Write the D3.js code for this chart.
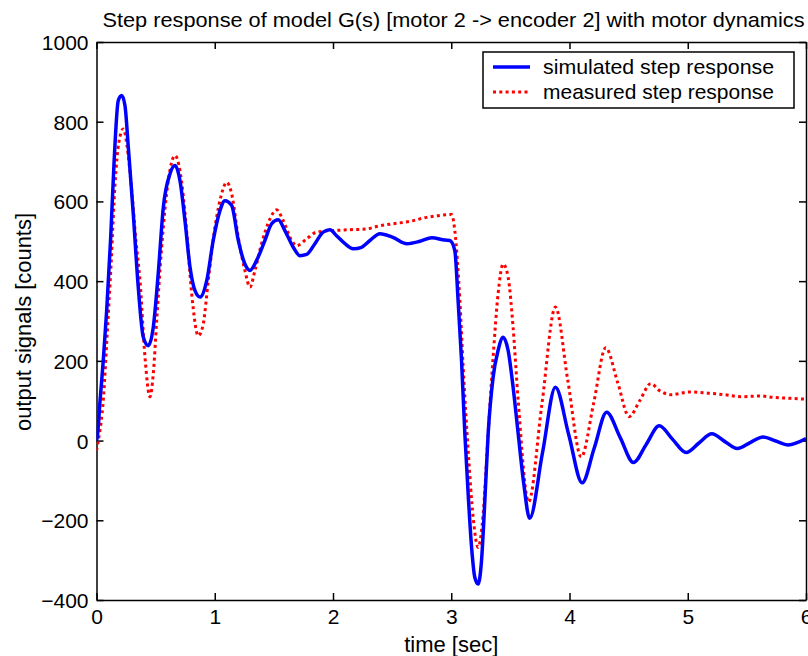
<!DOCTYPE html>
<html>
<head>
<meta charset="utf-8">
<script src="https://cdn.jsdelivr.net/npm/d3@7"></script>
<style>
  body { margin: 0; background: #fff; }
  svg { display: block; font-family: "Liberation Sans", Arial, Helvetica, sans-serif; }
</style>
</head>
<body>
<svg id="chart" width="808" height="656"></svg>
<script>
// simulated step response (blue)
const simTime = [0.000, 0.007, 0.030, 0.057, 0.086, 0.120, 0.148, 0.184, 0.213, 0.241, 0.269, 0.311, 0.353, 0.396, 0.438, 0.480, 0.522, 0.565, 0.621, 0.664,
  0.706, 0.748, 0.791, 0.833, 0.876, 0.932, 0.987, 1.044, 1.086, 1.143, 1.199, 1.255, 1.298, 1.354, 1.424, 1.481, 1.537, 1.593, 1.664, 1.720,
  1.777, 1.847, 1.917, 1.974, 2.030, 2.101, 2.171, 2.242, 2.312, 2.397, 2.506, 2.625, 2.735, 2.836, 2.946, 2.988, 3.030, 3.058, 3.087, 3.115,
  3.143, 3.172, 3.199, 3.227, 3.256, 3.284, 3.312, 3.354, 3.396, 3.439, 3.481, 3.523, 3.566, 3.614, 3.663, 3.772, 3.881, 3.994, 4.107, 4.210,
  4.314, 4.428, 4.541, 4.650, 4.759, 4.872, 4.986, 5.095, 5.204, 5.311, 5.419, 5.528, 5.637, 5.744, 5.850, 6.000];
const simValue = [0, 10, 100, 200, 326, 510, 695, 853, 866, 840, 736, 569, 385, 259, 238, 284, 419, 585, 669, 690,
  652, 552, 435, 376, 360, 401, 502, 577, 602, 590, 502, 443, 427, 452, 502, 544, 554, 527, 485, 464,
  467, 494, 523, 529, 514, 494, 481, 485, 502, 519, 510, 494, 500, 509, 503, 502, 477, 351, 201, 17,
  -134, -268, -343, -360, -301, -151, 17, 159, 226, 259, 226, 134, 17, -110, -195, -30, 134, 14, -106, -18,
  71, 8, -55, -9, 37, 3, -30, -6, 17, -2, -20, -5, 9, -1, -11, 5];

// measured step response (red, dotted)
const measTime = [0.000, 0.021, 0.057, 0.089, 0.123, 0.156, 0.190, 0.227, 0.258, 0.298, 0.334, 0.368, 0.410, 0.452, 0.480, 0.509, 0.551, 0.607, 0.664, 0.706,
  0.762, 0.805, 0.861, 0.903, 0.945, 1.002, 1.058, 1.101, 1.143, 1.199, 1.255, 1.298, 1.340, 1.396, 1.467, 1.523, 1.579, 1.650, 1.692, 1.777,
  1.861, 2.002, 2.143, 2.284, 2.382, 2.509, 2.650, 2.791, 2.904, 3.003, 3.030, 3.073, 3.101, 3.143, 3.185, 3.227, 3.270, 3.312, 3.354, 3.396,
  3.439, 3.481, 3.523, 3.566, 3.654, 3.766, 3.881, 3.986, 4.099, 4.205, 4.306, 4.408, 4.504, 4.594, 4.688, 4.763, 4.858, 5.017, 5.170, 5.313,
  5.453, 5.609, 5.735, 5.862, 6.000];
const measValue = [-25, 10, 100, 260, 440, 640, 750, 782, 740, 627, 500, 401, 209, 110, 167, 301, 485, 652, 715, 677,
  527, 368, 263, 293, 401, 535, 619, 648, 619, 510, 427, 385, 427, 494, 556, 579, 552, 502, 489, 506,
  523, 527, 529, 531, 538, 544, 550, 560, 565, 567, 527, 351, 184, -25, -192, -268, -184, 17, 209, 368,
  443, 410, 284, 100, -154, 90, 335, 150, -41, 95, 233, 145, 60, 100, 143, 125, 115, 122, 119, 115,
  110, 112, 108, 106, 104];

const xTicks = [0, 1, 2, 3, 4, 5, 6];
const yTicks = [-400, -200, 0, 200, 400, 600, 800, 1000];
const seriesNames = ["simulated step response", "measured step response"];

const titleText = "Step response of model G(s) [motor 2 -> encoder 2] with motor dynamics";
const xLabel = "time [sec]";
const yLabel = "output signals [counts]";

function drawChart() {
    const svg = d3.select("#chart");
    const margin = { top: 42, right: 2, bottom: 56, left: 96.5 };
    const width = +svg.attr("width") - margin.left - margin.right;
    const height = +svg.attr("height") - margin.top - margin.bottom;

    const x = d3.scaleLinear().domain([0, 6]).range([0, width]);
    const y = d3.scaleLinear().domain([-400, 1000]).range([height, 0]);

    const g = svg.append("g").attr("transform", `translate(${margin.left},${margin.top})`);

    g.append("clipPath").attr("id", "plot-clip")
        .append("rect").attr("width", width).attr("height", height);

    // axes, ticks point inward like matlab
    const fmt = d3.format("d");
    const bottom = g.append("g").attr("transform", `translate(0,${height})`)
        .call(d3.axisBottom(x).tickValues(xTicks).tickFormat(fmt).tickSizeInner(-7).tickSizeOuter(0).tickPadding(9));
    const top = g.append("g")
        .call(d3.axisTop(x).tickValues(xTicks).tickFormat("").tickSizeInner(-7).tickSizeOuter(0));
    const left = g.append("g")
        .call(d3.axisLeft(y).tickValues(yTicks).tickFormat(fmt).tickSizeInner(-7).tickSizeOuter(0).tickPadding(8));
    const right = g.append("g").attr("transform", `translate(${width},0)`)
        .call(d3.axisRight(y).tickValues(yTicks).tickFormat("").tickSizeInner(-7).tickSizeOuter(0));

    [bottom, top, left, right].forEach(a => {
        a.selectAll("path, line").attr("stroke", "#000").attr("stroke-width", 1.5);
        a.selectAll("text").attr("fill", "#000").style("font-size", "21px");
        a.attr("font-family", null);
    });
    left.selectAll("text").attr("dy", "0.36em");

    const line = (xs, vs) => d3.line()
        .x((d, i) => x(xs[i]))
        .y(d => y(d))
        .curve(d3.curveMonotoneX)(vs);

    const curves = g.append("g").attr("clip-path", "url(#plot-clip)");
    curves.append("path")
        .attr("d", line(measTime, measValue))
        .attr("fill", "none")
        .attr("stroke", "#ff0000")
        .attr("stroke-width", 3)
        .attr("stroke-dasharray", "3,3.3");
    curves.append("path")
        .attr("d", line(simTime, simValue))
        .attr("fill", "none")
        .attr("stroke", "#0000ff")
        .attr("stroke-width", 3.5)
        .attr("stroke-linejoin", "round");

    // title and labels
    svg.append("text")
        .attr("x", margin.left + 6).attr("y", 27)
        .attr("textLength", 702).attr("lengthAdjust", "spacingAndGlyphs")
        .style("font-size", "21px")
        .text(titleText);

    svg.append("text")
        .attr("x", margin.left + width / 2).attr("y", 652)
        .attr("text-anchor", "middle")
        .style("font-size", "22px")
        .text(xLabel);

    svg.append("text")
        .attr("transform", `translate(31,${322}) rotate(-90)`)
        .attr("text-anchor", "middle")
        .attr("textLength", 218).attr("lengthAdjust", "spacingAndGlyphs")
        .style("font-size", "22px")
        .text(yLabel);

    // legend
    const legend = svg.append("g").attr("transform", "translate(483,52)");
    legend.append("rect")
        .attr("width", 311).attr("height", 56)
        .attr("fill", "#fff").attr("stroke", "#000").attr("stroke-width", 1.5);
    const styles = [
        { color: "#0000ff", width: 3.5, dash: null },
        { color: "#ff0000", width: 3, dash: "3,3.3" }
    ];
    seriesNames.forEach((name, i) => {
        const yy = 15 + i * 25;
        legend.append("line")
            .attr("x1", 10).attr("x2", 47).attr("y1", yy).attr("y2", yy)
            .attr("stroke", styles[i].color)
            .attr("stroke-width", styles[i].width)
            .attr("stroke-dasharray", styles[i].dash);
        legend.append("text")
            .attr("x", 60).attr("y", yy + 7)
            .attr("textLength", 231).attr("lengthAdjust", "spacingAndGlyphs")
            .style("font-size", "21px")
            .text(name);
    });
}

drawChart();
</script>
</body>
</html>
